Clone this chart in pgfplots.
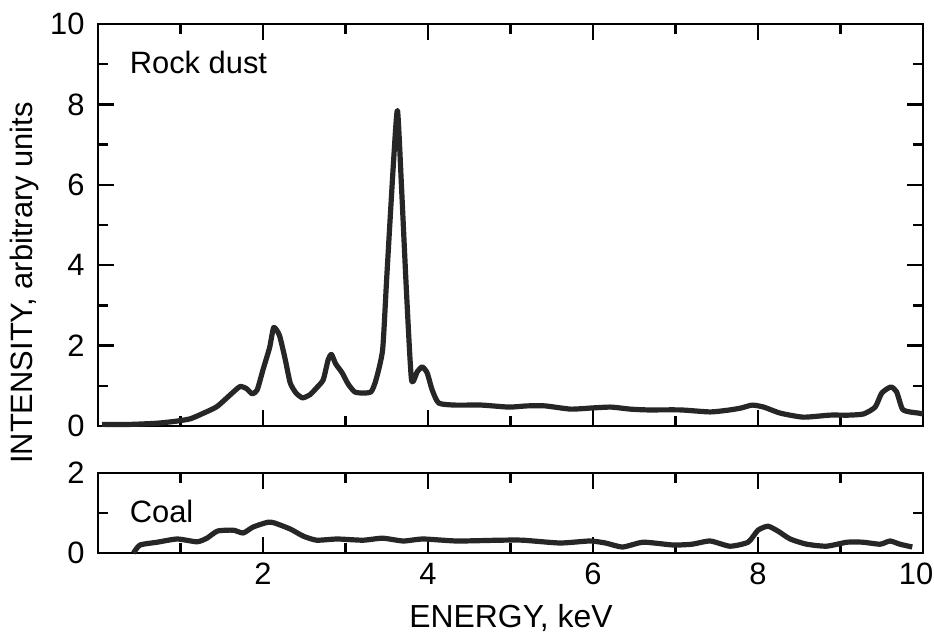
\documentclass[border=0pt]{standalone}
\usepackage{fontspec}
\setmainfont{Liberation Sans}
\usepackage{pgfplots}
\pgfplotsset{compat=1.18}

\pgfplotsset{
  panel/.style={
    scale only axis,
    width=412.5bp,
    xmin=0, xmax=10,
    axis line style={line width=1.4bp},
    tick style={line width=1.2bp, black},
    major tick length=8bp, minor tick length=5bp,
    tick align=inside,
    xtick={2,4,6,8,10}, minor xtick={1,3,5,7,9},
    ticklabel style={font=\fontsize{15.5}{17}\selectfont},
    /pgf/number format/assume math mode=true,
    yticklabel style={inner sep=0pt, xshift=-6.5bp},
    xticklabel style={inner sep=0pt, yshift=-5bp},
    clip=false,
  },
  curve/.style={black!85, line width=2.6bp, smooth, tension=0.35, line join=round},
}

\begin{document}
\begin{tikzpicture}
\useasboundingbox (0,0) rectangle (467bp,321.5bp);

% upper panel
\begin{axis}[panel,
    at={(49bp,108.5bp)}, anchor=south west,
    height=201bp,
    ymin=0, ymax=10,
    ytick={0,2,4,6,8,10}, minor ytick={1,3,5,7,9},
    xticklabels={},
  ]
  \addplot[curve] coordinates {
    (0.05,0.04) (0.4,0.04) (0.72,0.07) (0.95,0.12) (1.12,0.18) (1.28,0.32)
    (1.44,0.48) (1.6,0.77) (1.72,0.98) (1.8,0.93) (1.87,0.8) (1.93,0.9)
    (2.0,1.4) (2.08,1.95) (2.13,2.45) (2.2,2.25) (2.27,1.65) (2.33,1.07)
    (2.4,0.82) (2.48,0.7) (2.57,0.78) (2.65,0.95) (2.73,1.15) (2.79,1.65)
    (2.83,1.78) (2.88,1.55) (2.96,1.32) (3.03,1.05) (3.11,0.85) (3.2,0.82)
    (3.31,0.85) (3.37,1.15) (3.45,1.9) (3.5,3.7) (3.58,6.5) (3.63,7.85)
    (3.68,5.9) (3.74,3.3) (3.80,1.15) (3.87,1.35) (3.93,1.47) (3.99,1.32)
    (4.05,0.9) (4.13,0.57) (4.33,0.52) (4.65,0.52) (4.98,0.47) (5.2,0.5)
    (5.42,0.5) (5.73,0.42) (6.0,0.45) (6.22,0.47) (6.45,0.42) (6.66,0.40)
    (7.06,0.40) (7.42,0.35) (7.66,0.40) (7.8,0.45) (7.93,0.52) (8.07,0.47)
    (8.27,0.32) (8.55,0.22) (8.87,0.27) (9.1,0.27) (9.28,0.30) (9.42,0.47)
    (9.5,0.82) (9.61,0.97) (9.68,0.85) (9.75,0.42) (9.84,0.35) (9.95,0.32)
    (10,0.3)
  };
  \node[anchor=west, font=\fontsize{15.5}{17}\selectfont] at (axis cs:0.3,9.05) {Rock dust};
\end{axis}

% lower panel
\begin{axis}[panel,
    at={(49bp,45bp)}, anchor=south west,
    height=40bp,
    ymin=0, ymax=2,
    ytick={0,2}, minor ytick={1},
    xticklabels={2,4,6,8,{\kern-7bp 10}},
  ]
  \addplot[curve] coordinates {
    (0.43,0.0) (0.51,0.2) (0.72,0.27) (0.96,0.35) (1.2,0.28) (1.32,0.37)
    (1.45,0.55) (1.64,0.57) (1.76,0.5) (1.88,0.65) (2.06,0.77) (2.14,0.75)
    (2.33,0.6) (2.49,0.42) (2.65,0.32) (2.9,0.35) (3.21,0.32) (3.45,0.37)
    (3.7,0.3) (3.94,0.35) (4.35,0.3) (4.87,0.32) (5.15,0.32) (5.6,0.25)
    (5.96,0.3) (6.15,0.25) (6.36,0.15) (6.61,0.27) (6.97,0.2) (7.2,0.22)
    (7.42,0.3) (7.66,0.17) (7.88,0.27) (8.0,0.57) (8.12,0.67) (8.24,0.55)
    (8.39,0.35) (8.59,0.22) (8.83,0.17) (9.08,0.27) (9.27,0.27) (9.48,0.22)
    (9.6,0.3) (9.72,0.22) (9.87,0.15)
  };
  \node[anchor=west, font=\fontsize{15.5}{17}\selectfont] at (axis cs:0.3,1.05) {Coal};
\end{axis}

% axis titles
\node[rotate=90, font=\fontsize{15.5}{17}\selectfont] at (12.5bp,180bp) {INTENSITY, arbitrary units};
\node[font=\fontsize{16}{18}\selectfont] at (255.5bp,12.5bp) {ENERGY, keV};
\end{tikzpicture}
\end{document}
